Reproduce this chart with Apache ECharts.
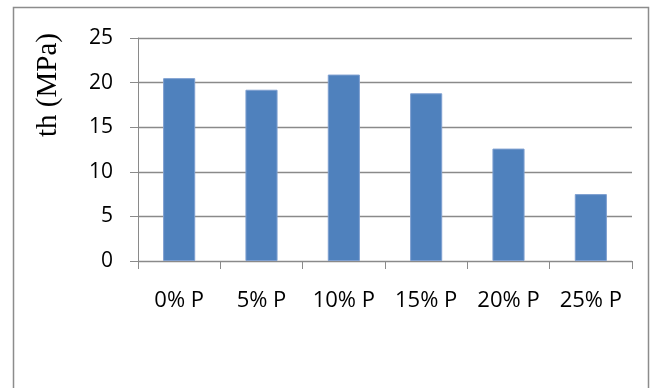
<!DOCTYPE html>
<html>
<head>
<meta charset="utf-8">
<script src="https://cdn.jsdelivr.net/npm/echarts@6/dist/echarts.min.js"></script>
<style>
  html, body { margin: 0; padding: 0; background: #fff; }
  #chart { width: 652px; height: 388px; }
</style>
</head>
<body>
<div id="chart"></div>
<script>
var categories = ['0% P', '5% P', '10% P', '15% P', '20% P', '25% P'];
var values = [20.5, 19.2, 20.9, 18.8, 12.6, 7.5];
var yTicks = { min: 0, max: 25, interval: 5 };
var yTitle = 'th (MPa)';

var myChart = echarts.init(document.getElementById('chart'), null, { renderer: 'canvas' });

var gridColor = '#8a8a8a',
	labelFont = '"Open Sans", sans-serif';

var option = {
	animation: false,
	grid: {
		left: 138,
		right: 20,
		top: 38,
		bottom: 127
	},
	graphic: [
		{
			type: 'rect',
			shape: { x: 13.5, y: 7.5, width: 635, height: 400 },
			style: { fill: 'none', stroke: '#8c8c8c', lineWidth: 1.5 }
		},
		{
			type: 'text',
			x: 48,
			y: 85,
			rotation: Math.PI / 2,
			style: {
				text: yTitle,
				fontFamily: '"Liberation Serif", "Times New Roman", serif',
				fontSize: 29,
				fontWeight: 'normal',
				fill: '#000',
				align: 'center',
				verticalAlign: 'middle'
			}
		}
	],
	xAxis: {
		type: 'category',
		data: categories,
		axisLine: { lineStyle: { color: gridColor, width: 1 } },
		axisTick: { show: true, length: 8, lineStyle: { color: gridColor } },
		axisLabel: {
			color: '#000',
			fontFamily: labelFont,
			fontSize: 22,
			margin: 29
		}
	},
	yAxis: {
		type: 'value',
		min: yTicks.min,
		max: yTicks.max,
		interval: yTicks.interval,
		axisLine: { show: true, lineStyle: { color: gridColor, width: 1 } },
		axisTick: { show: true, length: 8, lineStyle: { color: gridColor } },
		splitLine: { lineStyle: { color: gridColor, width: 1.3 } },
		axisLabel: {
			color: '#000',
			fontFamily: labelFont,
			fontSize: 21,
			margin: 25
		}
	},
	series: [
		{
			type: 'bar',
			data: values,
			barWidth: '39%',
			itemStyle: {
				color: '#4f81bd',
				borderColor: '#7e9fd0',
				borderWidth: 1
			}
		}
	]
};

myChart.setOption(option);
</script>
</body>
</html>
